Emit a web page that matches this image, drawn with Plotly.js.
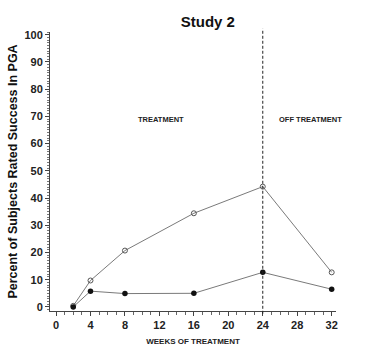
<!DOCTYPE html>
<html><head><meta charset="utf-8">
<script src="https://cdn.plot.ly/plotly-3.0.1.min.js"></script>
<style>html,body{margin:0;padding:0;background:#fff;}#chart{width:366px;height:359px;}</style>
</head><body><div id="chart"></div>
<script>
var weeks = [2, 4, 8, 16, 24, 32];
var openSeries = [0.4, 9.7, 20.7, 34.4, 44.2, 12.7];
var filledSeries = [0, 5.8, 4.9, 5.0, 12.7, 6.5];
var xTicks = [0, 4, 8, 12, 16, 20, 24, 28, 32];
var yTicks = [0, 10, 20, 30, 40, 50, 60, 70, 80, 90, 100];
var treatmentEnd = 24;

var font = "'Liberation Sans', Arial, sans-serif";
var traces = [
  {x: weeks, y: openSeries, mode: 'lines+markers', type: 'scatter',
   line: {color: '#7a7a7a', width: 1},
   marker: {symbol: 'circle-open', size: 5, color: '#555', line: {width: 1, color: '#555'}}},
  {x: weeks, y: filledSeries, mode: 'lines+markers', type: 'scatter',
   line: {color: '#7a7a7a', width: 1},
   marker: {symbol: 'circle', size: 5.5, color: '#111'}}
];
var layout = {
  width: 366, height: 359,
  margin: {l: 50, r: 30, t: 32, b: 48},
  paper_bgcolor: '#fff', plot_bgcolor: '#fff',
  showlegend: false,
  title: {text: '<b>Study 2</b>', x: 0.568, xanchor: 'center', y: 0.94, yanchor: 'middle',
          font: {family: font, size: 15, color: '#111'}},
  xaxis: {range: [-0.7, 32.5], tickvals: xTicks, ticktext: xTicks.map(function(v){return '<b>'+v+'</b>';}),
          showgrid: false, zeroline: false, showline: true, linecolor: '#444', linewidth: 1,
          ticks: 'outside', ticklen: 4, tickcolor: '#444',
          minor: {dtick: 1, tick0: 0, ticks: 'outside', ticklen: 3, tickcolor: '#666', showgrid: false},
          tickfont: {family: font, size: 11, color: '#222'},
          title: {text: '<b>WEEKS OF TREATMENT</b>', font: {family: font, size: 8, color: '#222'}, standoff: 8}},
  yaxis: {range: [-1.5, 101], tickvals: yTicks, ticktext: yTicks.map(function(v){return '<b>'+v+'</b>';}),
          showgrid: false, zeroline: false, showline: true, linecolor: '#444', linewidth: 1,
          ticks: 'outside', ticklen: 4, tickcolor: '#444',
          minor: {dtick: 1, tick0: 0, ticks: 'outside', ticklen: 2, tickcolor: '#777', showgrid: false},
          tickfont: {family: font, size: 11, color: '#222'},
          title: {text: '<b>Percent of Subjects Rated Success In PGA</b>', font: {family: font, size: 12.5, color: '#111'}, standoff: 4}},
  shapes: [{type: 'line', xref: 'x', yref: 'paper', x0: treatmentEnd, x1: treatmentEnd, y0: -0.01, y1: 1.012,
            line: {color: '#222', width: 1, dash: '3px,2px'}}],
  annotations: [
    {text: '<b>TREATMENT</b>', xref: 'x', yref: 'y', x: 12.2, y: 69, showarrow: false,
     font: {family: font, size: 7.5, color: '#222'}},
    {text: '<b>OFF TREATMENT</b>', xref: 'x', yref: 'y', x: 29.5, y: 69, showarrow: false,
     font: {family: font, size: 7.5, color: '#222'}}
  ]
};
Plotly.newPlot('chart', traces, layout, {displayModeBar: false, staticPlot: true});
</script></body></html>
